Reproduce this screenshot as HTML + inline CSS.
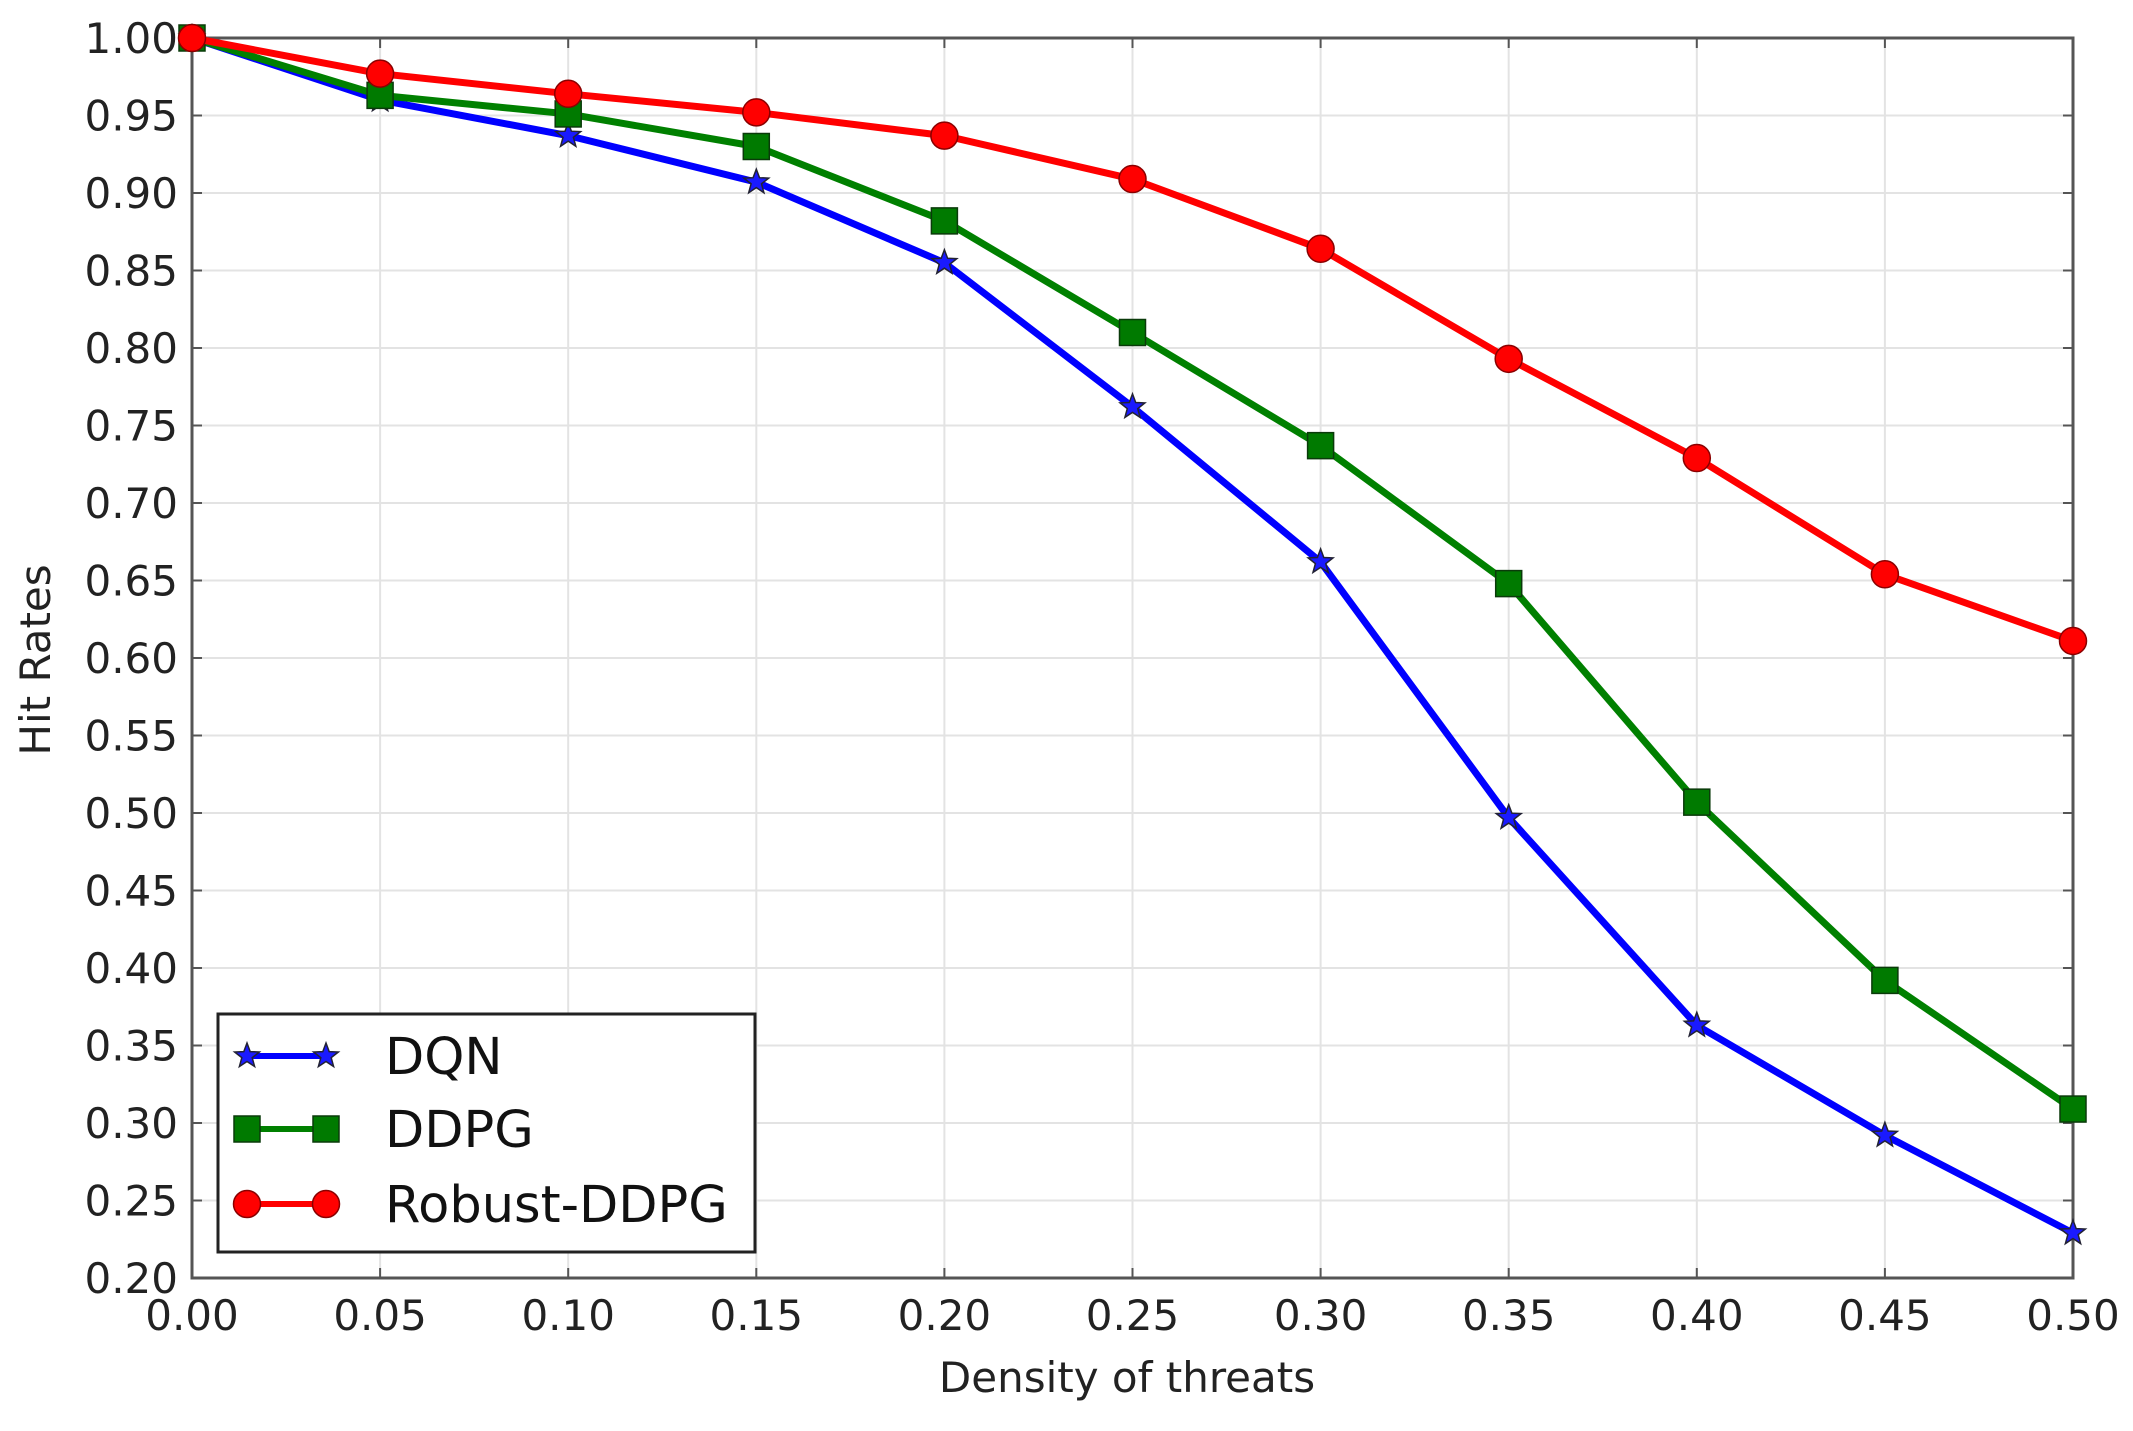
<!DOCTYPE html>
<html><head><meta charset="utf-8"><style>
html,body{margin:0;padding:0;background:#fff;}
svg{display:block;font-family:"DejaVu Sans","Liberation Sans",sans-serif;}
</style></head><body>
<svg id="c" width="2133" height="1431" viewBox="0 0 2133 1431" xmlns="http://www.w3.org/2000/svg"></svg>
<script>
const L=192,R=2073,T=38,B=1278;
const X=v=>L+(R-L)*v/0.5, Y=v=>B-(B-T)*(v-0.2)/0.8;
let s='';
for(let i=0;i<=10;i++){const x=X(i*0.05);
 s+=`<line x1="${x}" y1="${T}" x2="${x}" y2="${B}" stroke="#e3e3e3" stroke-width="2"/>`;
 s+=`<line x1="${x}" y1="${B}" x2="${x}" y2="${B-10}" stroke="#555" stroke-width="2"/><line x1="${x}" y1="${T}" x2="${x}" y2="${T+10}" stroke="#555" stroke-width="2"/>`;
 s+=`<text x="${x}" y="1330" font-size="42" fill="#222" text-anchor="middle">${(i*0.05).toFixed(2)}</text>`;}
for(let i=0;i<=16;i++){const v=0.2+i*0.05,y=Y(v);
 s+=`<line x1="${L}" y1="${y}" x2="${R}" y2="${y}" stroke="#e3e3e3" stroke-width="2"/>`;
 s+=`<line x1="${L}" y1="${y}" x2="${L+10}" y2="${y}" stroke="#555" stroke-width="2"/><line x1="${R}" y1="${y}" x2="${R-10}" y2="${y}" stroke="#555" stroke-width="2"/>`;
 s+=`<text x="178" y="${y+15}" font-size="42" fill="#222" text-anchor="end">${v.toFixed(2)}</text>`;}
s+=`<rect x="${L}" y="${T}" width="${R-L}" height="${B-T}" fill="none" stroke="#555" stroke-width="3"/>`;
const xs=[0,.05,.1,.15,.2,.25,.3,.35,.4,.45,.5];
const D={dqn:[1,.96,.937,.907,.855,.762,.662,.497,.363,.292,.229],
ddpg:[1,.963,.951,.930,.882,.810,.737,.648,.507,.392,.309],
rob:[1,.977,.964,.952,.937,.909,.864,.793,.729,.654,.611]};
function star(cx,cy,r,col){let p=[];for(let k=0;k<10;k++){const a=-Math.PI/2+k*Math.PI/5,rr=k%2?r*0.42:r;p.push((cx+rr*Math.cos(a)).toFixed(1)+','+(cy+rr*Math.sin(a)).toFixed(1));}
 return `<polygon points="${p.join(' ')}" fill="${col}" stroke="#223" stroke-width="1.5"/>`;}
function mk(t,x,y){if(t=='dqn')return star(x,y,13,'#1a1aff');if(t=='ddpg')return `<rect x="${x-13}" y="${y-13}" width="26" height="26" fill="#007a00" stroke="#0a3a0a" stroke-width="1.5"/>`;return `<circle cx="${x}" cy="${y}" r="13.5" fill="#ff0000" stroke="#8a0000" stroke-width="1.5"/>`;}
const col={dqn:'#0000ff',ddpg:'#008000',rob:'#ff0000'};
for(const k of ['dqn','ddpg','rob']){
 s+=`<polyline points="${xs.map((v,i)=>X(v)+','+Y(D[k][i])).join(' ')}" fill="none" stroke="${col[k]}" stroke-width="7" stroke-linejoin="round"/>`;
 xs.forEach((v,i)=>s+=mk(k,X(v),Y(D[k][i])));}
s+=`<rect x="218" y="1014" width="537" height="238" fill="#fff" stroke="#222" stroke-width="3"/>`;
[['dqn',1056,'DQN'],['ddpg',1129,'DDPG'],['rob',1204,'Robust-DDPG']].forEach(([k,y,t])=>{
 s+=`<line x1="247" y1="${y}" x2="326" y2="${y}" stroke="${col[k]}" stroke-width="6"/>`+mk(k,247,y)+mk(k,326,y);
 s+=`<text x="385" y="${y+18}" font-size="51" fill="#111">${t}</text>`;});
s+=`<text x="1127" y="1392" font-size="42" fill="#222" text-anchor="middle">Density of threats</text>`;
s+=`<text transform="translate(50,660) rotate(-90)" font-size="42" fill="#222" text-anchor="middle">Hit Rates</text>`;
document.getElementById('c').innerHTML=s;
</script>
</body></html>
